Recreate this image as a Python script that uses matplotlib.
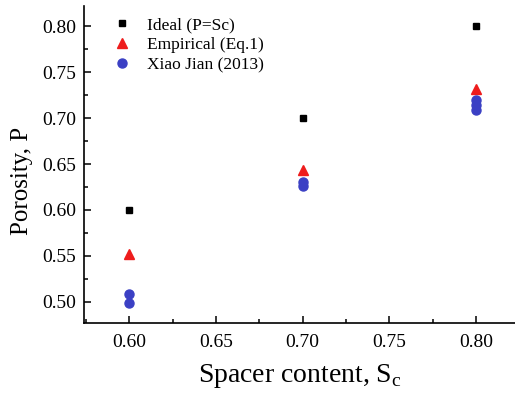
import matplotlib
matplotlib.use('Agg')
import matplotlib.pyplot as plt
from matplotlib.ticker import MultipleLocator

# spacer content (x) and porosity values
spacer = [0.60, 0.70, 0.80]
ideal = [0.60, 0.70, 0.80]
empirical = [0.552, 0.643, 0.732]
xiao_x = [0.60, 0.60, 0.70, 0.70, 0.80, 0.80, 0.80]
xiao_y = [0.508, 0.499, 0.631, 0.626, 0.720, 0.714, 0.709]

plt.rcParams['font.family'] = ['Liberation Serif', 'DejaVu Serif']
plt.rcParams['mathtext.fontset'] = 'custom'
plt.rcParams['mathtext.rm'] = 'Liberation Serif'

fig = plt.figure(figsize=(5.15, 3.96), dpi=100)
ax = fig.add_axes([0.1637, 0.1843, 0.8363, 0.8])

ax.plot(spacer, ideal, ls='none', marker='s', ms=5, color='black',
        label='Ideal (P=Sc)')
ax.plot(spacer, empirical, ls='none', marker='^', ms=7, color='#ee1c1c',
        label='Empirical (Eq.1)')
ax.plot(xiao_x, xiao_y, ls='none', marker='o', ms=6.5, color='#3b40c4',
        label='Xiao Jian (2013)')

ax.set_xlim(0.574, 0.8225)
ax.set_ylim(0.4768, 0.822)
ax.xaxis.set_major_locator(MultipleLocator(0.05))
ax.xaxis.set_minor_locator(MultipleLocator(0.025))
ax.yaxis.set_major_locator(MultipleLocator(0.05))
ax.yaxis.set_minor_locator(MultipleLocator(0.025))
ax.xaxis.set_major_formatter('{x:.2f}')
ax.yaxis.set_major_formatter('{x:.2f}')

ax.spines['top'].set_visible(False)
ax.spines['right'].set_visible(False)
ax.spines['left'].set_linewidth(1.2)
ax.spines['bottom'].set_linewidth(1.2)
ax.tick_params(which='major', direction='in', length=5, width=1.1,
               labelsize=14, pad=6)
ax.tick_params(axis='x', which='major', pad=8)
ax.tick_params(which='minor', direction='in', length=3, width=1.1)

ax.set_xlabel('Spacer content, S$_\\mathregular{c}$', fontsize=20,
              labelpad=8)
ax.set_ylabel('Porosity, P', fontsize=18)
ax.yaxis.set_label_coords(-0.12, 0.45)

ax.legend(loc='upper left', frameon=False, fontsize=12.5, handletextpad=0.8,
          labelspacing=0.22, borderaxespad=0.0, bbox_to_anchor=(0.048, 0.987),
          handlelength=1.2)

fig.savefig('out.png', dpi=100)
